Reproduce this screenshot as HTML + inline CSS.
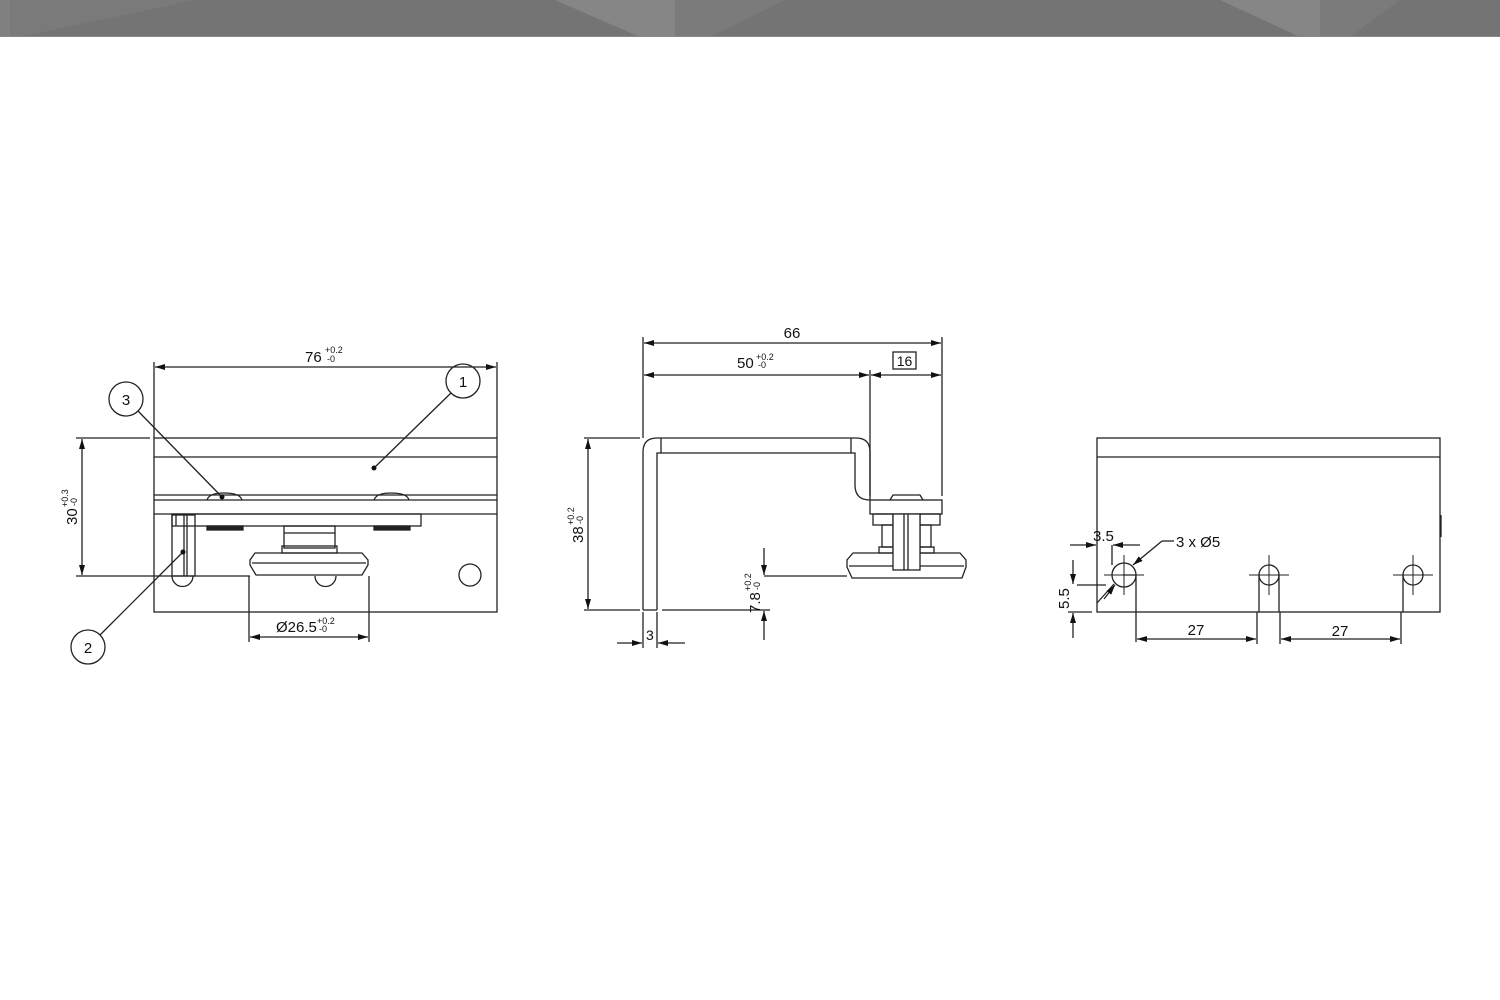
<!DOCTYPE html>
<html><head><meta charset="utf-8"><style>
html,body{margin:0;padding:0;background:#fff;width:1500px;height:1000px;overflow:hidden}
svg{display:block}
text{font-family:"Liberation Sans",sans-serif;fill:#111}
</style></head><body>
<svg width="1500" height="1000" viewBox="0 0 1500 1000" xmlns="http://www.w3.org/2000/svg">
<defs>
<marker id="a" viewBox="0 0 10 6" refX="10" refY="3" markerWidth="10" markerHeight="6" orient="auto-start-reverse" markerUnits="userSpaceOnUse"><path d="M0,0L10,3L0,6z" fill="#111"/></marker>
</defs>
<!-- header -->
<rect x="0" y="0" width="1500" height="37" fill="#747474"/>
<polygon points="0,0 50,0 22,37 0,37" fill="#808080"/>
<polygon points="195,0 10,0 10,37 20,37" fill="#7a7a7a"/>
<polygon points="555,0 675,0 675,37 640,37" fill="#868686"/>
<polygon points="675,0 785,0 710,37 675,37" fill="#7b7b7b"/>
<polygon points="1220,0 1320,0 1320,37 1300,37" fill="#868686"/>
<polygon points="1320,0 1400,0 1350,37 1320,37" fill="#7b7b7b"/>
<rect x="0" y="36" width="1500" height="1" fill="#888"/>

<g fill="none" stroke="#222" stroke-width="1.3">
<!-- LEFT VIEW -->
<rect x="154" y="438" width="343" height="174"/>
<line x1="154" y1="457" x2="497" y2="457"/>
<line x1="154" y1="495" x2="497" y2="495"/>
<line x1="154" y1="500" x2="497" y2="500"/>
<line x1="154" y1="514" x2="497" y2="514"/>
<rect x="172" y="514" width="249" height="12"/>
<line x1="176" y1="514" x2="176" y2="526"/>
<path d="M207,500 Q209,493 224,493 Q240,493 242,500"/>
<path d="M374,500 Q376,493 391,493 Q407,493 409,500"/>
<rect x="207" y="526" width="36" height="4" fill="#222"/>
<rect x="374" y="526" width="36" height="4" fill="#222"/>
<rect x="284" y="526" width="51" height="22"/>
<line x1="284" y1="533" x2="335" y2="533"/>
<rect x="282" y="546" width="55" height="7"/>
<path d="M255,553 L362,553 L368,560 L368,565 L362,575 L256,575 L250,565 L250,560 Z"/>
<line x1="252" y1="563" x2="366" y2="563"/>
<rect x="172" y="515" width="23" height="61"/>
<line x1="184" y1="515" x2="184" y2="576"/>
<line x1="187" y1="515" x2="187" y2="576"/>
<path d="M172,576 A10,10 0 0 0 193,576"/>
<path d="M315,576 A10,10 0 0 0 336,576"/>
<circle cx="470" cy="575" r="11"/>
<line x1="76" y1="576" x2="250" y2="576"/>
<line x1="76" y1="438" x2="150" y2="438"/>
<!-- dims left -->
<line x1="154" y1="362" x2="154" y2="438"/>
<line x1="497" y1="362" x2="497" y2="438"/>
<line x1="155" y1="367" x2="496" y2="367" marker-start="url(#a)" marker-end="url(#a)"/>
<line x1="82" y1="439" x2="82" y2="575" marker-start="url(#a)" marker-end="url(#a)"/>
<line x1="249" y1="576" x2="249" y2="642"/>
<line x1="369" y1="576" x2="369" y2="642"/>
<line x1="250" y1="637" x2="368" y2="637" marker-start="url(#a)" marker-end="url(#a)"/>
<!-- balloons -->
<circle cx="463" cy="381" r="17"/>
<line x1="451" y1="393" x2="374" y2="468"/>
<circle cx="126" cy="399" r="17"/>
<line x1="138" y1="411" x2="222" y2="497"/>
<circle cx="88" cy="647" r="17"/>
<line x1="100" y1="635" x2="183" y2="552"/>

<!-- MIDDLE VIEW -->
<path d="M643,610 L643,452 Q643,438 657,438 L856,438 Q870,438 870,452 L870,500"/>
<path d="M657,610 L657,453 L855,453 L855,485 Q855,500 870,500"/>
<line x1="643" y1="610" x2="657" y2="610"/>
<line x1="661" y1="438" x2="661" y2="453"/>
<line x1="851" y1="438" x2="851" y2="453"/>
<rect x="870" y="500" width="72" height="14"/>
<path d="M890,500 L893,495 L920,495 L923,500"/>
<rect x="873" y="514" width="20" height="11"/>
<rect x="920" y="514" width="20" height="11"/>
<rect x="882" y="525" width="11" height="22"/>
<rect x="920" y="525" width="11" height="22"/>
<rect x="879" y="547" width="14" height="6"/>
<rect x="920" y="547" width="14" height="6"/>
<path d="M853,553 L960,553 L966,560 L966,567 L962,578 L852,578 L847,567 L847,560 Z"/>
<line x1="849" y1="566" x2="964" y2="566"/>
<rect x="893" y="514" width="27" height="56" fill="#fff"/>
<line x1="904" y1="514" x2="904" y2="570"/>
<line x1="908" y1="514" x2="908" y2="570"/>
<!-- middle dims -->
<line x1="643" y1="337" x2="643" y2="438"/>
<line x1="942" y1="337" x2="942" y2="496"/>
<line x1="870" y1="370" x2="870" y2="496"/>
<line x1="644" y1="343" x2="941" y2="343" marker-start="url(#a)" marker-end="url(#a)"/>
<line x1="644" y1="375" x2="869" y2="375" marker-start="url(#a)" marker-end="url(#a)"/>
<line x1="871" y1="375" x2="941" y2="375" marker-start="url(#a)" marker-end="url(#a)"/>
<rect x="893" y="352" width="23" height="17"/>
<line x1="584" y1="438" x2="640" y2="438"/>
<line x1="584" y1="610" x2="640" y2="610"/>
<line x1="662" y1="610" x2="770" y2="610"/>
<line x1="588" y1="439" x2="588" y2="609" marker-start="url(#a)" marker-end="url(#a)"/>
<line x1="643" y1="612" x2="643" y2="648"/>
<line x1="657" y1="612" x2="657" y2="648"/>
<line x1="617" y1="643" x2="642" y2="643" marker-end="url(#a)"/>
<line x1="685" y1="643" x2="658" y2="643" marker-end="url(#a)"/>
<line x1="764" y1="576" x2="847" y2="576"/>
<line x1="764" y1="548" x2="764" y2="575" marker-end="url(#a)"/>
<line x1="764" y1="640" x2="764" y2="611" marker-end="url(#a)"/>

<!-- RIGHT VIEW -->
<rect x="1097" y="438" width="343" height="174"/>
<line x1="1097" y1="457" x2="1440" y2="457"/>
<line x1="1441" y1="515" x2="1441" y2="537"/>
<circle cx="1124" cy="575" r="12"/>
<circle cx="1269" cy="575" r="10"/>
<circle cx="1413" cy="575" r="10"/>
<path d="M1259,575 L1259,612 M1279,575 L1279,612 M1403,575 L1403,612 M1123,575 L1136,575 L1136,642"/>
<g stroke-width="1">
<line x1="1104" y1="575" x2="1144" y2="575"/><line x1="1124" y1="555" x2="1124" y2="595"/>
<line x1="1249" y1="575" x2="1289" y2="575"/><line x1="1269" y1="555" x2="1269" y2="595"/>
<line x1="1393" y1="575" x2="1433" y2="575"/><line x1="1413" y1="555" x2="1413" y2="595"/>
</g>
<line x1="1257" y1="612" x2="1257" y2="644"/>
<line x1="1280" y1="612" x2="1280" y2="644"/>
<line x1="1401" y1="612" x2="1401" y2="644"/>
<line x1="1137" y1="639" x2="1256" y2="639" marker-start="url(#a)" marker-end="url(#a)"/>
<line x1="1281" y1="639" x2="1400" y2="639" marker-start="url(#a)" marker-end="url(#a)"/>
<line x1="1112" y1="545" x2="1112" y2="565"/>
<line x1="1070" y1="545" x2="1096" y2="545" marker-end="url(#a)"/>
<line x1="1140" y1="545" x2="1113" y2="545" marker-end="url(#a)"/>
<line x1="1077" y1="585" x2="1106" y2="585"/>
<line x1="1068" y1="612" x2="1092" y2="612"/>
<line x1="1073" y1="560" x2="1073" y2="584" marker-end="url(#a)"/>
<line x1="1073" y1="638" x2="1073" y2="613" marker-end="url(#a)"/>
<path d="M1097,603 L1114,584"/>
<line x1="1162" y1="541" x2="1174" y2="541"/>
<line x1="1162" y1="541" x2="1133" y2="565" marker-end="url(#a)"/>
<line x1="1104" y1="599" x2="1115" y2="585" marker-end="url(#a)"/>
</g>
<circle cx="374" cy="468" r="2.5" fill="#111"/>
<circle cx="222" cy="497" r="2.5" fill="#111"/>
<circle cx="183" cy="552" r="2.5" fill="#111"/>

<!-- TEXT -->
<text x="305" y="362" font-size="15">76</text>
<text x="325" y="353" font-size="9">+0.2</text>
<text x="327" y="362" font-size="9">-0</text>
<text x="463" y="387" font-size="15" text-anchor="middle">1</text>
<text x="126" y="405" font-size="15" text-anchor="middle">3</text>
<text x="88" y="653" font-size="15" text-anchor="middle">2</text>
<g transform="translate(77,525) rotate(-90)"><text x="0" y="0" font-size="15">30</text><text x="18" y="-9" font-size="9">+0.3</text><text x="19" y="0" font-size="9">-0</text></g>
<text x="276" y="632" font-size="15">Ø26.5</text>
<text x="317" y="624" font-size="9">+0.2</text>
<text x="319" y="632" font-size="9">-0</text>
<text x="792" y="338" font-size="15" text-anchor="middle">66</text>
<text x="737" y="368" font-size="15">50</text>
<text x="756" y="360" font-size="9">+0.2</text>
<text x="758" y="368" font-size="9">-0</text>
<text x="904.5" y="366" font-size="14" text-anchor="middle">16</text>
<g transform="translate(583,543) rotate(-90)"><text x="0" y="0" font-size="15">38</text><text x="18" y="-9" font-size="9">+0.2</text><text x="19" y="0" font-size="9">-0</text></g>
<g transform="translate(760,613) rotate(-90)"><text x="0" y="0" font-size="15">7.8</text><text x="22" y="-9" font-size="9">+0.2</text><text x="23" y="0" font-size="9">-0</text></g>
<text x="646" y="640" font-size="14">3</text>
<text x="1093" y="541" font-size="15">3.5</text>
<text x="1176" y="547" font-size="15">3 x Ø5</text>
<g transform="translate(1069,609) rotate(-90)"><text x="0" y="0" font-size="15">5.5</text></g>
<text x="1196" y="635" font-size="15" text-anchor="middle">27</text>
<text x="1340" y="636" font-size="15" text-anchor="middle">27</text>
</svg>
</body></html>
